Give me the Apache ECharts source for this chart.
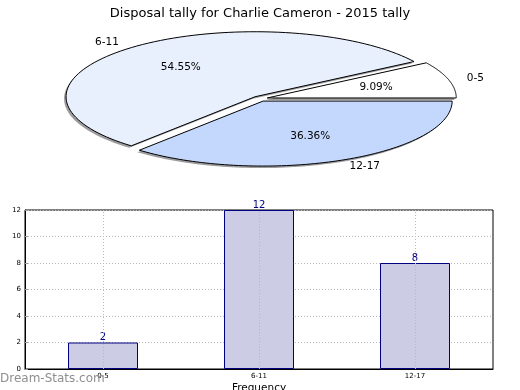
<!DOCTYPE html>
<html>
<head>
<meta charset="utf-8">
<script src="https://cdn.jsdelivr.net/npm/echarts@6/dist/echarts.min.js"></script>
<style>
html,body{margin:0;padding:0;background:#fff;}
#chart{width:520px;height:390px;}
</style>
</head>
<body>
<div id="chart"></div>
<script>
var titleText = 'Disposal tally for Charlie Cameron - 2015 tally';
var categories = ['0-5', '6-11', '12-17'];
var values = [2, 12, 8];
var yTicks = [0, 2, 4, 6, 8, 10, 12];
var pieColors = ['#ffffff', '#e9f0fd', '#c4d8fd'];

var chart = echarts.init(document.getElementById('chart'), null, {renderer: 'canvas'});
var FONT = 'DejaVu Sans';

var total = values.reduce(function (a, b) { return a + b; }, 0);
var cum = [];
var acc = 0;
for (var i = 0; i < values.length; i++) { cum.push(acc); acc += values[i]; }
var pieData = values.map(function (v, i) { return [v, cum[i], total, i]; });

var PIE = {cx: 260, cy: 98.7, rx: 189, ry: 65, explode: 0.04};

function renderSlice(params, api) {
  var v = api.value(0), start = api.value(1), tot = api.value(2), idx = api.value(3);
  var a0 = start / tot * 2 * Math.PI;
  var a1 = (start + v) / tot * 2 * Math.PI;
  var am = (a0 + a1) / 2;
  var ox = PIE.cx + PIE.explode * PIE.rx * Math.cos(am);
  var oy = PIE.cy - PIE.explode * PIE.ry * Math.sin(am);
  var pts = [[ox, oy]];
  var spts = [[ox - 2, oy + 2]];
  var n = 90;
  for (var k = 0; k <= n; k++) {
    var t = a0 + (a1 - a0) * k / n;
    var x = ox + PIE.rx * Math.cos(t), y = oy - PIE.ry * Math.sin(t);
    pts.push([x, y]);
    spts.push([x - 2, y + 2]);
  }
  var lx = ox + 1.1 * PIE.rx * Math.cos(am);
  var ly = oy - 1.1 * PIE.ry * Math.sin(am);
  var px = ox + 0.6 * PIE.rx * Math.cos(am);
  var py = oy - 0.6 * PIE.ry * Math.sin(am);
  var pct = (v / tot * 100).toFixed(2) + '%';
  return {
    type: 'group',
    children: [
      {type: 'polygon', z2: 0, shape: {points: spts},
       style: {fill: 'rgba(60,60,65,0.5)', stroke: null}},
      {type: 'polygon', z2: 10, shape: {points: pts},
       style: {fill: pieColors[idx], stroke: '#000', lineWidth: 1}},
      {type: 'text', z2: 20, x: lx, y: ly,
       style: {text: categories[idx], fill: '#000', font: '10.5px ' + FONT,
               align: Math.cos(am) < 0 ? 'right' : 'left', verticalAlign: 'middle'}},
      {type: 'text', z2: 20, x: px, y: py,
       style: {text: pct, fill: '#000', font: '10.5px ' + FONT, align: 'center', verticalAlign: 'middle'}}
    ]
  };
}

var option = {
  backgroundColor: '#ffffff',
  animation: false,
  textStyle: {fontFamily: FONT},
  title: {
    text: titleText, left: 'center', top: 2,
    textStyle: {fontFamily: FONT, fontSize: 13, fontWeight: 'normal', color: '#000'}
  },
  grid: {left: 25, right: 27, top: 210, bottom: 21, containLabel: false, outerBoundsMode: 'none',
         show: true, borderColor: '#000', borderWidth: 1, backgroundColor: 'transparent'},
  xAxis: {
    type: 'category', data: categories, boundaryGap: true,
    name: 'Frequency', nameLocation: 'middle', nameGap: 14,
    nameTextStyle: {fontFamily: FONT, fontSize: 10.5, color: '#000'},
    axisLine: {lineStyle: {color: '#000', width: 1}},
    axisTick: {show: true, inside: true, alignWithLabel: true, length: 3, lineStyle: {color: '#999'}},
    axisLabel: {fontFamily: FONT, fontSize: 7, color: '#000', margin: 4},
    splitLine: {show: false}
  },
  yAxis: {
    type: 'value', min: 0, max: 12, interval: 2,
    name: 'Stat Intervals', nameLocation: 'middle', nameGap: 16,
    nameTextStyle: {fontFamily: FONT, fontSize: 10.5, color: '#000'},
    axisLine: {show: true, lineStyle: {color: '#000', width: 1}},
    axisTick: {show: true, inside: true, length: 3, lineStyle: {color: '#999'}},
    axisLabel: {fontFamily: FONT, fontSize: 7, color: '#000', margin: 4,
      formatter: function (v) { return yTicks.indexOf(v) >= 0 ? String(v) : ''; }},
    splitLine: {show: true, lineStyle: {color: '#b8b8b8', type: [1, 2], width: 1}}
  },
  series: [
    {
      type: 'custom', coordinateSystem: 'none', renderItem: renderSlice,
      data: pieData, silent: true, z: 5
    },
    {
      type: 'bar', data: values, barWidth: 70,
      itemStyle: {color: '#ccccE5', borderColor: '#000080', borderWidth: 1},
      label: {show: true, position: 'top', distance: 0, color: '#000080', fontFamily: FONT, fontSize: 10},
      markLine: {
        silent: true, symbol: 'none', label: {show: false},
        lineStyle: {color: '#b8b8b8', type: [1, 2], width: 1},
        data: categories.map(function (c) { return {xAxis: c}; })
      },
      z: 2
    }
  ],
  graphic: [
    {type: 'text', left: 0, top: 373, z: 100,
     style: {text: 'Dream-Stats.com', fill: '#8f8f8f', font: '12px ' + FONT}}
  ]
};
chart.setOption(option);
</script>
</body>
</html>
